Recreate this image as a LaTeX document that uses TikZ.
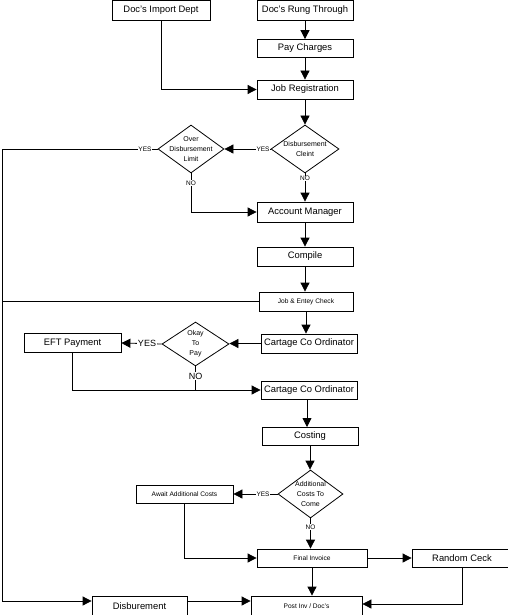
\documentclass[tikz,border=0pt]{standalone}
\usepackage{fontspec}
\setmainfont{Liberation Sans}
\usetikzlibrary{arrows.meta,shapes.geometric}
\begin{document}
\begin{tikzpicture}[x=1pt,y=-1pt,
  line width=0.8pt,
  box/.style={draw,rectangle,inner sep=0pt,font=\fontsize{9.4}{11}\selectfont},
  sbox/.style={box,font=\fontsize{6.6}{8}\selectfont},
  dia/.style={draw,diamond,inner sep=0pt},
  dtext/.style={align=center,font=\fontsize{7}{10}\selectfont,inner sep=0pt},
  lab/.style={fill=white,inner sep=0.6pt,font=\fontsize{6.5}{7}\selectfont},
  blab/.style={fill=white,inner sep=0.6pt,font=\fontsize{9}{10}\selectfont},
  arr/.style={-{Triangle[length=9pt,width=9pt]}}]
\fill[white] (0,0) rectangle (508,615);
\useasboundingbox (0,0) rectangle (508,615);

% boxes
\node[box,minimum width=98pt,minimum height=20pt] (imp) at (161,10.5) {Doc's Import Dept};
\node[box,minimum width=96pt,minimum height=20pt] (rung) at (305,10.5) {Doc's Rung Through};
\node[box,minimum width=96pt,minimum height=18pt] (pay) at (305,48.5) {Pay Charges};
\node[box,minimum width=96pt,minimum height=19pt] (jobreg) at (305,89.5) {Job Registration};
\node[dia,minimum width=68pt,minimum height=48pt] (cleint) at (305,149) {};
\node[dtext] (cleintt) at (cleint) {Disbursement\\Cleint};
\node[dia,minimum width=66pt,minimum height=48pt] (over) at (191,149) {};
\node[dtext] (overt) at (over) {Over\\Disbursement\\Limit};
\node[box,minimum width=96pt,minimum height=20pt] (acct) at (305,212) {Account Manager};
\node[box,minimum width=96pt,minimum height=19pt] (compile) at (305,256.5) {Compile};
\node[sbox,minimum width=94pt,minimum height=19pt] (jec) at (306,301.5) {Job \& Entey Check};
\node[box,minimum width=96pt,minimum height=19pt] (cart1) at (309,343.5) {Cartage Co Ordinator};
\node[dia,minimum width=67pt,minimum height=44pt] (okay) at (195.5,344) {};
\node[dtext] (okayt) at (okay) {Okay\\To\\Pay};
\node[box,minimum width=97pt,minimum height=19pt] (eft) at (72.5,343) {EFT Payment};
\node[box,minimum width=96pt,minimum height=18pt] (cart2) at (309,390) {Cartage Co Ordinator};
\node[box,minimum width=96pt,minimum height=18pt] (costing) at (310,436) {Costing};
\node[dia,minimum width=65pt,minimum height=48pt] (addl) at (310.5,494) {};
\node[dtext] (addlt) at (addl) {Additional\\Costs To\\Come};
\node[sbox,minimum width=97pt,minimum height=18pt] (await) at (184.5,494) {Await Additional Costs};
\node[sbox,minimum width=110pt,minimum height=18pt] (fin) at (312,558) {Final Invoice};
\node[box,minimum width=100pt,minimum height=18pt] (random) at (462,558) {Random Ceck};
\node[sbox,minimum width=111pt,minimum height=20pt] (post) at (306.5,606) {Post Inv / Doc's};
\node[box,minimum width=95pt,minimum height=20pt] (disb) at (139.5,606) {Disburement};

\coordinate (L1) at (2,149);
\coordinate (L2) at (2,601);

% connectors
\draw[arr] (imp.south) |- (jobreg.west);
\draw[arr] (rung.south) -- (pay.north);
\draw[arr] (pay.south) -- (jobreg.north);
\draw[arr] (jobreg.south) -- (cleint.north);
\draw[arr] (cleint.south) -- (cleint.south |- acct.north);
\node[lab] (no1) at (305,178.5) {NO};
\draw[arr] (cleint.west) -- (over.east);
\node[lab] (yes1) at (263,149) {YES};
\draw (over.west) -- (L1) -- (L2);
\node[lab] (yes2) at (145,149) {YES};
\draw[arr] (L2) -- ([yshift=5pt]disb.west);
\draw[arr] (over.south) |- (acct.west);
\node[lab] (no2) at (191,183) {NO};
\draw[arr] (acct.south) -- (compile.north);
\draw[arr] (compile.south) -- (compile.south |- jec.north);
\draw (jec.west) -- (jec.west -| L1);
\draw[arr] (jec.south) -- (jec.south |- cart1.north);
\draw[arr] (cart1.west) -- (cart1.west -| okay.east);
\draw[arr] (okay.west) -- (eft.east);
\node[blab] (yes3) at (147,343.5) {YES};
\draw (okay.south) -- (okay.south |- cart2.west);
\node[blab] (no3) at (195.5,376) {NO};
\draw[arr] (eft.south) |- (cart2.west);
\draw[arr] (307,399) -- (307,427);
\draw[arr] (costing.south) -- (costing.south |- addl.north);
\draw[arr] (addl.west) -- (await.east);
\node[lab] (yes4) at (263,494) {YES};
\draw[arr] (addl.south) -- (addl.south |- fin.north);
\node[lab] (no4) at (310.5,527) {NO};
\draw[arr] (await.south) |- (fin.west);
\draw[arr] (fin.east) -- (random.west);
\draw[arr] (fin.south) -- (fin.south |- post.north);
\draw[arr] (random.south) |- ([yshift=2pt]post.east);
\draw[arr] ([yshift=5pt]disb.east) -- ([yshift=5pt]post.west);
\end{tikzpicture}
\end{document}
